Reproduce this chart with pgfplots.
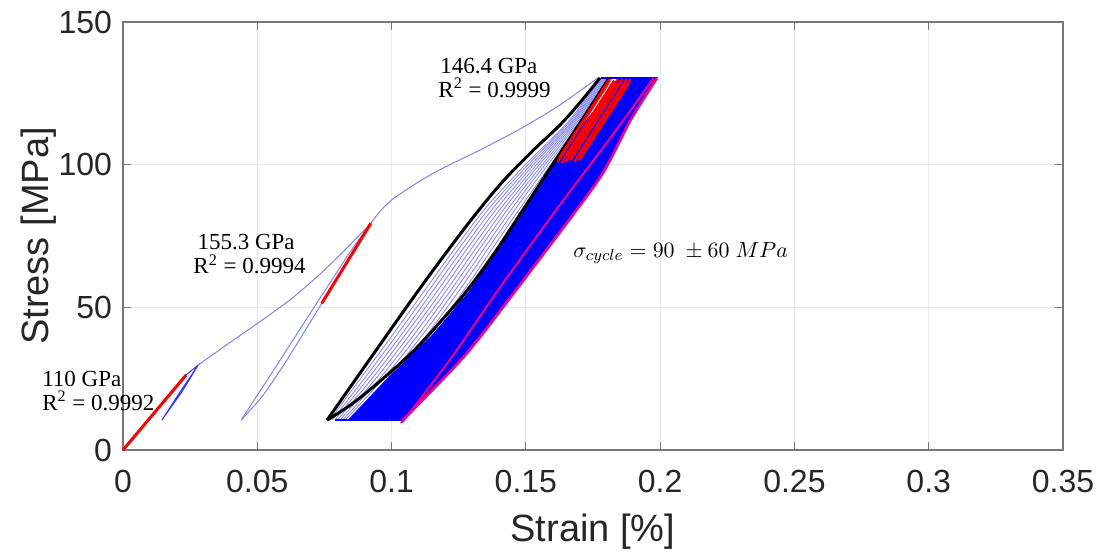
\documentclass[border=0pt]{standalone}
\usepackage{fontspec}
\setmainfont{Liberation Sans}
\newfontfamily\tnr{Liberation Serif}
\usepackage{pgfplots}
\pgfplotsset{compat=1.18}
\definecolor{lightblue}{RGB}{130,130,240}
\definecolor{axgray}{RGB}{120,120,120}
\definecolor{txtgray}{RGB}{38,38,38}
\begin{document}
\begin{tikzpicture}
\begin{axis}[
  scale only axis, width=470pt, height=214pt,
  xmin=0, xmax=0.35, ymin=0, ymax=150,
  xtick={0,0.05,0.1,0.15,0.2,0.25,0.3,0.35},
  xticklabels={0,0.05,0.1,0.15,0.2,0.25,0.3,0.35},
  ytick={0,50,100,150},
  yticklabels={0,50,100,150},
  grid=major, major grid style={gray!18, line width=0.5pt},
  axis line style={axgray, line width=0.6pt},
  tick style={axgray, line width=0.6pt},
  tick align=inside, major tick length=4pt,
  ticklabel style={font=\fontsize{16}{16}\selectfont, text=txtgray},
  xticklabel style={yshift=-6.5pt},
  yticklabel style={xshift=-2pt},
  xlabel={Strain [\%]}, ylabel={Stress [MPa]},
  label style={font=\fontsize{19}{19}\selectfont, text=txtgray},
  xlabel style={yshift=-3.5pt},
  ylabel style={yshift=-6pt},
  clip=false,
]
% ---- first loops and envelope (thin) ----
\addplot[blue!80, line width=0.5pt] coordinates {(0,0) (0.0120,13.5) (0.0235,26.3) (0.0280,29.8) (0.0210,20) (0.0145,10.5) (0.0220,20.5) (0.0280,29.8)};
\addplot[lightblue, line width=0.5pt, smooth, tension=0.5] coordinates {(0.0280,29.8) (0.0400,37.8) (0.0510,45) (0.0620,52.5) (0.0720,60.5) (0.0820,69.5) (0.0923,79.5)};
\addplot[lightblue, line width=0.5pt, smooth, tension=0.4] coordinates {(0.0923,79.5) (0.0850,70) (0.0725,52) (0.0585,31.5) (0.0440,10.5)};
\addplot[lightblue, line width=0.5pt, smooth, tension=0.4] coordinates {(0.0440,10.5) (0.0520,19) (0.0610,31.5) (0.0740,51.4) (0.0840,67) (0.0923,79.5)};
\addplot[lightblue, line width=0.5pt, smooth, tension=0.5] coordinates {(0.0923,79.5) (0.0965,84.5) (0.1020,89) (0.1155,97) (0.1330,105.2) (0.1478,112.5) (0.1620,120.5) (0.1768,130.4)};
% ---- light cycles ----
\addplot[lightblue, line width=0.4pt, smooth] coordinates {(0.0770,10.5) (0.0884,25) (0.1001,40) (0.1116,55) (0.1231,70) (0.1352,85) (0.1498,100) (0.1657,115) (0.1778,130.4)};
\addplot[lightblue, line width=0.4pt, smooth] coordinates {(0.0779,10.5) (0.0898,25) (0.1017,40) (0.1132,55) (0.1246,70) (0.1366,85) (0.1508,100) (0.1663,115) (0.1782,130.4)};
\addplot[lightblue, line width=0.4pt, smooth] coordinates {(0.0789,10.5) (0.0912,25) (0.1033,40) (0.1148,55) (0.1262,70) (0.1380,85) (0.1519,100) (0.1669,115) (0.1787,130.4)};
\addplot[lightblue, line width=0.4pt, smooth] coordinates {(0.0798,10.5) (0.0927,25) (0.1048,40) (0.1165,55) (0.1277,70) (0.1395,85) (0.1529,100) (0.1674,115) (0.1791,130.4)};
\addplot[lightblue, line width=0.4pt, smooth] coordinates {(0.0808,10.5) (0.0941,25) (0.1064,40) (0.1181,55) (0.1293,70) (0.1409,85) (0.1540,100) (0.1680,115) (0.1796,130.4)};
\addplot[lightblue, line width=0.4pt, smooth] coordinates {(0.0818,10.5) (0.0955,25) (0.1080,40) (0.1197,55) (0.1309,70) (0.1423,85) (0.1550,100) (0.1686,115) (0.1800,130.4)};
\addplot[lightblue, line width=0.4pt, smooth] coordinates {(0.0827,10.5) (0.0969,25) (0.1096,40) (0.1213,55) (0.1324,70) (0.1437,85) (0.1561,100) (0.1692,115) (0.1805,130.4)};
\addplot[lightblue, line width=0.4pt, smooth] coordinates {(0.0837,10.5) (0.0983,25) (0.1112,40) (0.1229,55) (0.1340,70) (0.1451,85) (0.1571,100) (0.1698,115) (0.1809,130.4)};
\addplot[lightblue, line width=0.4pt, smooth] coordinates {(0.0846,10.5) (0.0997,25) (0.1128,40) (0.1245,55) (0.1355,70) (0.1465,85) (0.1582,100) (0.1704,115) (0.1814,130.4)};
\addplot[lightblue, line width=0.4pt, smooth] coordinates {(0.0856,10.5) (0.1012,25) (0.1143,40) (0.1262,55) (0.1371,70) (0.1480,85) (0.1593,100) (0.1709,115) (0.1819,130.4)};
\addplot[lightblue, line width=0.4pt, smooth] coordinates {(0.0866,10.5) (0.1026,25) (0.1159,40) (0.1278,55) (0.1387,70) (0.1494,85) (0.1603,100) (0.1715,115) (0.1823,130.4)};
% ---- dense region of later cycles ----
\addplot[blue, fill=blue, line width=0.5pt] coordinates {(0.0840,10.5) (0.0985,25) (0.1150,40) (0.1285,55) (0.1395,70) (0.1497,85) (0.1603,100) (0.1722,115) (0.1850,130.4) (0.1988,130.4) (0.1888,115.4) (0.1776,95.5) (0.1527,64) (0.1280,33.9) (0.1042,10.5) (0.0840,10.5)};
\addplot[blue, line width=1pt] coordinates {(0.0790,10.5) (0.1042,10.5)};
\addplot[blue, line width=1pt] coordinates {(0.1780,130.4) (0.1988,130.4)};
% ---- first full cycle (black) ----
\addplot[black, line width=1.5pt, smooth, tension=0.6] coordinates {(0.1810,130.4) (0.1690,113) (0.1592,99) (0.1495,85) (0.1390,70) (0.1290,57) (0.1210,48) (0.1095,36) (0.0980,26) (0.0856,16.4) (0.0760,10.5)};
\addplot[black, line width=1.5pt, smooth, tension=0.7] coordinates {(0.0760,10.5) (0.0868,25) (0.0980,40) (0.1093,55) (0.1210,70) (0.1316,83) (0.1418,94.5) (0.1525,104.8) (0.1650,116.2) (0.1776,130.4)};
% ---- last cycle (magenta) ----
\addplot[magenta, line width=1.4pt, smooth, tension=0.4] coordinates {(0.1042,10.5) (0.1280,33.9) (0.1527,64) (0.1776,95.5) (0.1888,115.4) (0.1988,130.4)};
\addplot[magenta, line width=1pt, smooth, tension=0.4] coordinates {(0.1975,130.4) (0.1878,117.5) (0.1776,104.5) (0.1655,89.5) (0.1530,73.5) (0.1400,56.5) (0.1220,32) (0.1050,11) (0.1042,10.5)};
% ---- modulus fits (red) ----
\addplot[red, line width=1.5pt] coordinates {(0,0) (0.0235,26.3)};
\addplot[red, line width=1.5pt] coordinates {(0.0740,51.4) (0.0923,79.5)};
\addplot[red, line width=1.2pt] coordinates {(0.1618,101) (0.1806,128.5)};
\addplot[red, line width=1.2pt] coordinates {(0.1625,102.5) (0.1812,130)};
\addplot[red, line width=1.2pt] coordinates {(0.1633,100.5) (0.1821,128)};
\addplot[red, line width=1.2pt] coordinates {(0.1641,102) (0.1829,129.5)};
\addplot[red, line width=1.2pt] coordinates {(0.1649,101) (0.1837,128.5)};
\addplot[red, line width=1.2pt] coordinates {(0.1657,103) (0.1843,130)};
\addplot[red, line width=1.2pt] coordinates {(0.1665,101.5) (0.1853,129)};
\addplot[red, line width=1.2pt] coordinates {(0.1673,103) (0.1860,130)};
\addplot[red, line width=1.2pt] coordinates {(0.1681,101) (0.1869,128.5)};
\addplot[red, line width=1.2pt] coordinates {(0.1690,102.5) (0.1876,130)};
\addplot[red, line width=1.2pt] coordinates {(0.1698,101.5) (0.1884,128.5)};
\addplot[red, line width=1.2pt] coordinates {(0.1706,103) (0.1890,130)};
% ---- annotations ----
\node[anchor=base west, inner sep=0pt, font=\tnr\fontsize{11.5}{12}\selectfont] at (axis cs:-0.0302,22.4) {110 GPa};
\node[anchor=base west, inner sep=0pt, font=\tnr\fontsize{11.5}{12}\selectfont] at (axis cs:-0.0302,14.0) {R\textsuperscript{2} = 0.9992};
\node[anchor=base west, inner sep=0pt, font=\tnr\fontsize{11.5}{12}\selectfont] at (axis cs:0.0276,70.1) {155.3 GPa};
\node[anchor=base west, inner sep=0pt, font=\tnr\fontsize{11.5}{12}\selectfont] at (axis cs:0.0261,61.7) {R\textsuperscript{2} = 0.9994};
\node[anchor=base west, inner sep=0pt, font=\tnr\fontsize{11.5}{12}\selectfont] at (axis cs:0.1180,132.1) {146.4 GPa};
\node[anchor=base west, inner sep=0pt, font=\tnr\fontsize{11.5}{12}\selectfont] at (axis cs:0.1173,123.7) {R\textsuperscript{2} = 0.9999};
\node[anchor=base west, inner sep=0pt, font=\fontsize{11}{12}\selectfont] at (axis cs:0.1675,67.6) {$\sigma_{cycle} = 90\ \pm 60\ MPa$};
\end{axis}
\pgfresetboundingbox
\path[use as bounding box] ([shift={(-61.5pt,-52pt)}]current axis.south west) rectangle ([shift={(18pt,11pt)}]current axis.north east);
\end{tikzpicture}
\end{document}
